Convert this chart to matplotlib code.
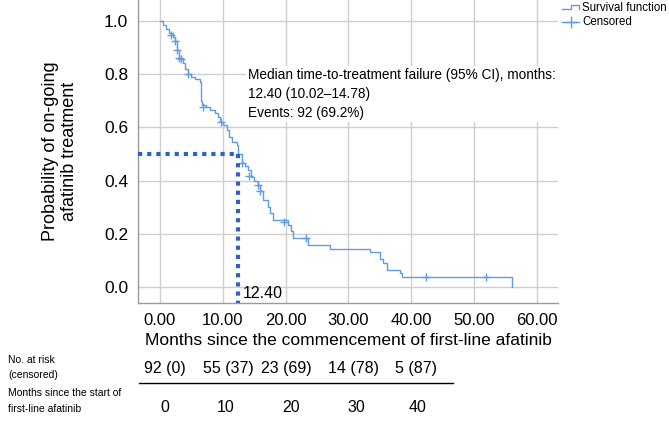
import matplotlib
matplotlib.use("Agg")
import matplotlib.pyplot as plt
from matplotlib.lines import Line2D

plt.rcParams['font.family'] = ['Liberation Sans', 'DejaVu Sans']

# Kaplan-Meier step curve (time in months, survival after step)
km_time = [0, 0.5, 1.0, 1.5, 2.0, 2.4, 2.7, 3.1, 3.6, 4.0, 4.5, 5.0, 5.6, 6.4, 6.5,
           6.6, 6.7, 7.4, 8.0, 8.75, 9.2, 9.55, 10.0, 10.6, 11.0, 11.4, 12.2, 12.4,
           13.0, 13.5, 14.0, 14.5, 15.0, 15.65, 16.0, 16.4, 17.25, 17.6, 18.05,
           20.4, 20.8, 21.2, 23.6, 27.1, 33.4, 35.0, 35.6, 36.1, 38.2, 38.6, 56.15]
km_surv = [1.0, 0.985, 0.97, 0.955, 0.94, 0.925, 0.89, 0.86, 0.84, 0.82, 0.80, 0.79,
           0.78, 0.77, 0.73, 0.70, 0.684, 0.675, 0.665, 0.653, 0.64, 0.621, 0.61,
           0.59, 0.565, 0.546, 0.534, 0.50, 0.465, 0.455, 0.44, 0.415, 0.40, 0.384,
           0.36, 0.327, 0.302, 0.28, 0.252, 0.234, 0.21, 0.184, 0.159, 0.1435,
           0.131, 0.105, 0.09, 0.065, 0.0525, 0.0375, 0.0]

cens_time = [1.7, 2.4, 2.65, 3.1, 3.3, 4.5, 6.9, 9.7, 13.0, 14.2, 15.6, 16.0,
             19.7, 23.3, 42.4, 51.9]
cens_surv = [0.946, 0.925, 0.89, 0.86, 0.855, 0.80, 0.677, 0.621, 0.465, 0.417,
             0.384, 0.36, 0.246, 0.184, 0.0375, 0.0375]

median_time = 12.40

risk_labels = ["92 (0)", "55 (37)", "23 (69)", "14 (78)", "5 (87)"]
risk_months = ["0", "10", "20", "30", "40"]

curve_color = "#5f9ddf"
dot_color = "#2f62b8"

fig = plt.figure(figsize=(6.69, 4.25), dpi=100)
ax = fig.add_axes([138 / 669, 1 - 303 / 425, 420 / 669, 303 / 425])

ax.step(km_time, km_surv, where='post', color=curve_color, lw=1.0, zorder=3)
ax.plot(cens_time, cens_surv, '+', color=curve_color, ms=5.5, mew=1.0, zorder=3)

ymin, ymax = -0.059, 1.078
xmin, xmax = -3.5, 63.4
ax.set_xlim(xmin, xmax)
ax.set_ylim(ymin, ymax)

# median reference lines
ax.plot([xmin, median_time], [0.5, 0.5], linestyle=(0, (1, 1.2)), color=dot_color,
        lw=3, dash_capstyle='butt', zorder=4)
ax.plot([median_time, median_time], [0.5, ymin], linestyle=(0, (1, 1.2)), color=dot_color,
        lw=3, dash_capstyle='butt', zorder=4)
ax.text(median_time + 0.8, -0.022, f"{median_time:.2f}", fontsize=11.5, va='center',
        ha='left', zorder=5)

ax.set_xticks([0, 10, 20, 30, 40, 50, 60])
ax.set_xticklabels(["0.00", "10.00", "20.00", "30.00", "40.00", "50.00", "60.00"],
                   fontsize=12)
ax.set_yticks([0.0, 0.2, 0.4, 0.6, 0.8, 1.0])
ax.set_yticklabels(["0.0", "0.2", "0.4", "0.6", "0.8", "1.0"], fontsize=12.5)
ax.tick_params(length=0, pad=7)
ax.grid(True, color="#cfcfcf", lw=1.0)
ax.set_axisbelow(True)
for s in ['top', 'right']:
    ax.spines[s].set_visible(False)
for s in ['left', 'bottom']:
    ax.spines[s].set_color("#9a9a9a")
    ax.spines[s].set_linewidth(1.0)

ax.set_xlabel("Months since the commencement of first-line afatinib", fontsize=12.5,
              labelpad=4)
ax.set_ylabel("Probability of on-going\nafatinib treatment", fontsize=13, labelpad=19,
              linespacing=1.15)

ax.text(14.0, 0.823,
        "Median time-to-treatment failure (95% CI), months:\n12.40 (10.02\u201314.78)\nEvents: 92 (69.2%)",
        fontsize=9.8, va='top', ha='left', linespacing=1.45,
        bbox=dict(facecolor='white', edgecolor='none', pad=1.5), zorder=5)

# legend (drawn by hand in figure pixels)
def fx(px):
    return px / 669

def fy(py):
    return 1 - py / 425

fig.add_artist(Line2D([fx(562), fx(571), fx(571), fx(579), fx(579)],
                      [fy(9), fy(9), fy(5), fy(5), fy(9)], color=curve_color, lw=1))
fig.add_artist(Line2D([fx(562), fx(579)], [fy(22), fy(22)], color=curve_color, lw=1))
fig.add_artist(Line2D([fx(570.5)], [fy(22)], marker='+', ms=8, color=curve_color, mew=1))
fig.text(fx(582), fy(8), "Survival function", fontsize=8.3, va='center', ha='left')
fig.text(fx(582), fy(22), "Censored", fontsize=8.3, va='center', ha='left')

# number at risk table
fig.text(fx(8), fy(360), "No. at risk", fontsize=7.5, va='center', ha='left')
fig.text(fx(8), fy(375), "(censored)", fontsize=7.5, va='center', ha='left')
fig.text(fx(8), fy(393), "Months since the start of", fontsize=7.5, va='center', ha='left')
fig.text(fx(8), fy(409), "first-line afatinib", fontsize=7.5, va='center', ha='left')
risk_x = [165, 228, 286, 354, 416]
month_x = [165, 226, 291, 356, 418]
for lbl, x in zip(risk_labels, risk_x):
    fig.text(fx(x), fy(368), lbl, fontsize=11.5, va='center', ha='center')
for lbl, x in zip(risk_months, month_x):
    fig.text(fx(x), fy(407), lbl, fontsize=11.5, va='center', ha='center')
fig.add_artist(Line2D([fx(139), fx(453)], [fy(383), fy(383)], color='black', lw=1))

fig.savefig("out.png", dpi=100)
